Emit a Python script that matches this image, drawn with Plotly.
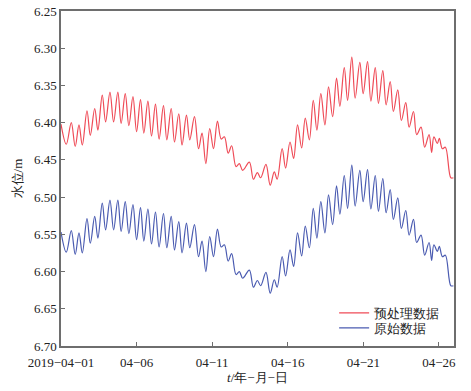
import pandas as pd
import plotly.graph_objects as go

# time of each turning point, in days after 2019-04-01 00:00
t_days = [0.00, 0.35, 0.68, 0.94, 1.19, 1.41, 1.72, 1.94, 2.23, 2.44,
          2.73, 2.95, 3.24, 3.48, 3.76, 3.98, 4.25, 4.49, 4.76, 5.00,
          5.26, 5.48, 5.75, 5.99, 6.25, 6.49, 6.78, 7.00, 7.29, 7.51,
          7.79, 8.01, 8.30, 8.52, 8.83, 9.10, 9.33, 9.58, 9.84, 10.09,
          10.35, 10.60, 10.81, 11.06, 11.29, 11.58, 11.80, 12.02, 12.46, 12.73,
          12.99, 13.21, 13.56, 13.84, 14.11, 14.30, 14.63, 14.86, 15.15, 15.39,
          15.65, 15.92, 16.16, 16.43, 16.69, 16.93, 17.19, 17.46, 17.70, 17.97,
          18.23, 18.45, 18.74, 18.96, 19.24, 19.46, 19.77, 19.99, 20.28, 20.50,
          20.79, 21.00, 21.29, 21.51, 21.78, 21.99, 22.28, 22.52, 22.81, 23.03,
          23.32, 23.53, 23.82, 24.06, 24.35, 24.52, 24.67, 24.90, 25.03, 25.23,
          25.43, 25.79, 25.96]

preprocessed = [6.402, 6.429, 6.400, 6.432, 6.403, 6.430, 6.384, 6.417, 6.381, 6.410,
                6.363, 6.399, 6.359, 6.399, 6.359, 6.401, 6.361, 6.404, 6.365, 6.412,
                6.369, 6.414, 6.371, 6.418, 6.375, 6.422, 6.377, 6.423, 6.381, 6.426,
                6.388, 6.430, 6.390, 6.423, 6.392, 6.435, 6.414, 6.455, 6.408, 6.435,
                6.398, 6.422, 6.419, 6.441, 6.431, 6.459, 6.455, 6.464, 6.453, 6.476,
                6.467, 6.474, 6.456, 6.484, 6.466, 6.476, 6.435, 6.461, 6.426, 6.448,
                6.403, 6.434, 6.394, 6.423, 6.370, 6.410, 6.361, 6.403, 6.352, 6.392,
                6.340, 6.378, 6.326, 6.370, 6.312, 6.367, 6.319, 6.361, 6.318, 6.371,
                6.326, 6.374, 6.330, 6.376, 6.345, 6.385, 6.356, 6.397, 6.373, 6.406,
                6.385, 6.416, 6.406, 6.433, 6.416, 6.440, 6.419, 6.428, 6.421, 6.435,
                6.433, 6.474, 6.474]

raw = [6.547, 6.574, 6.545, 6.577, 6.548, 6.575, 6.529, 6.562, 6.526, 6.555,
       6.508, 6.544, 6.504, 6.544, 6.504, 6.546, 6.506, 6.549, 6.510, 6.557,
       6.514, 6.559, 6.516, 6.563, 6.520, 6.567, 6.522, 6.568, 6.526, 6.571,
       6.533, 6.575, 6.535, 6.568, 6.537, 6.580, 6.559, 6.600, 6.553, 6.580,
       6.543, 6.567, 6.564, 6.586, 6.576, 6.604, 6.600, 6.609, 6.598, 6.621,
       6.612, 6.619, 6.601, 6.629, 6.611, 6.621, 6.580, 6.606, 6.571, 6.593,
       6.548, 6.579, 6.539, 6.568, 6.515, 6.555, 6.506, 6.548, 6.497, 6.537,
       6.485, 6.523, 6.471, 6.515, 6.457, 6.512, 6.464, 6.506, 6.463, 6.516,
       6.471, 6.519, 6.475, 6.521, 6.490, 6.530, 6.501, 6.542, 6.518, 6.551,
       6.530, 6.561, 6.551, 6.578, 6.561, 6.585, 6.564, 6.573, 6.566, 6.580,
       6.578, 6.619, 6.619]

tick_dates = ["2019-04-01", "2019-04-06", "2019-04-11", "2019-04-16", "2019-04-21", "2019-04-26"]
tick_text = ["2019\u221204\u221201", "04\u221206", "04\u221211", "04\u221216", "04\u221221", "04\u221226"]
y_ticks = [6.25, 6.30, 6.35, 6.40, 6.45, 6.50, 6.55, 6.60, 6.65, 6.70]

times = pd.Timestamp("2019-04-01") + pd.to_timedelta(t_days, unit="D")

FONT = "Liberation Serif"
AX = "#6e6e6e"

fig = go.Figure()
fig.add_trace(go.Scatter(x=times, y=preprocessed, mode="lines", name="预处理数据",
                         legend="legend",
                         line=dict(color="#ef4b57", width=1.2, shape="spline", smoothing=1.0)))
fig.add_trace(go.Scatter(x=times, y=raw, mode="lines", name="原始数据",
                         legend="legend2",
                         line=dict(color="#4a5bb1", width=1.2, shape="spline", smoothing=1.0)))

leg_common = dict(xanchor="left", yanchor="middle", bgcolor="rgba(0,0,0,0)",
                  font=dict(size=13, family=FONT, color="#222"), itemwidth=30)
fig.update_layout(
    width=471, height=391,
    margin=dict(l=61, r=17, t=11, b=45),
    paper_bgcolor="white", plot_bgcolor="white",
    font=dict(family=FONT, size=13, color="#222"),
    showlegend=True,
    legend=dict(x=0.695, y=(346 - 313) / 335, **leg_common),
    legend2=dict(x=0.695, y=(346 - 328) / 335, **leg_common),
)
fig.update_xaxes(
    range=[pd.Timestamp("2019-04-01"), pd.Timestamp("2019-04-27")],
    tickvals=pd.to_datetime(tick_dates), ticktext=tick_text,
    ticks="inside", ticklen=4, tickcolor=AX, tickwidth=1,
    showline=True, linecolor=AX, linewidth=1.5, mirror=True,
    showgrid=False, zeroline=False, automargin=False,
    ticklabelstandoff=4,
    title=dict(text="<i>t</i>/年\u2212月\u2212日", font=dict(size=13, family=FONT), standoff=3),
)
fig.update_yaxes(
    range=[6.70, 6.25], tickvals=y_ticks, tickformat=".2f",
    ticks="inside", ticklen=4, tickcolor=AX, tickwidth=1,
    showline=True, linecolor=AX, linewidth=1.5, mirror=True,
    showgrid=False, zeroline=False, automargin=False,
    title=dict(text="水位/m", font=dict(size=13, family=FONT), standoff=8),
)

fig.write_html("out.html", config={"displayModeBar": False},
               post_script="document.body.style.margin='0';")
